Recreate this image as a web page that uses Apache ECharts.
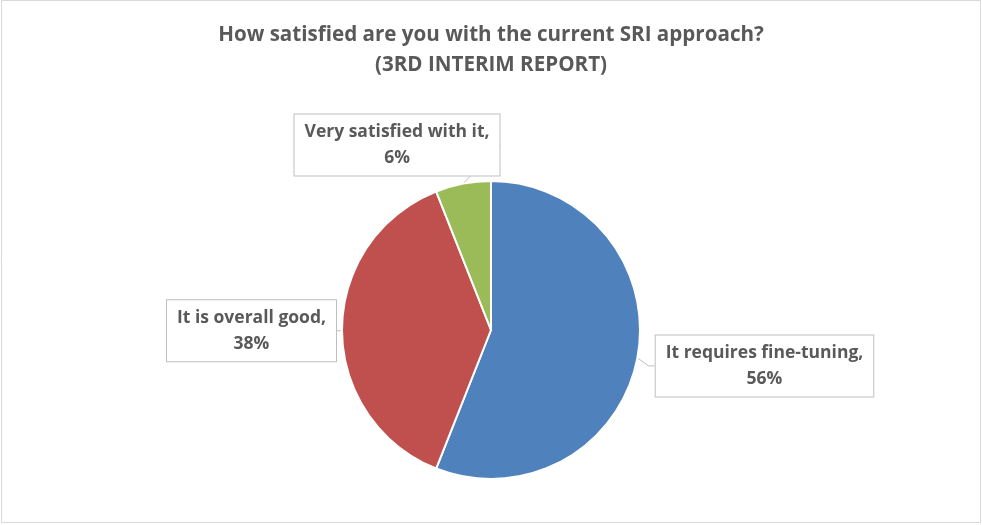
<!DOCTYPE html>
<html>
<head>
<meta charset="utf-8">
<script src="https://cdn.jsdelivr.net/npm/echarts@6/dist/echarts.min.js"></script>
<style>
  html, body { margin: 0; padding: 0; background: #fff; }
  #chart { width: 982px; height: 525px; }
</style>
</head>
<body>
<div id="chart"></div>
<script>
// Survey responses, share of respondents (%)
const categories = ['It requires fine-tuning', 'It is overall good', 'Very satisfied with it'];
const shares = [56, 38, 6];
const colors = ['#4F81BD', '#C0504D', '#9BBB59'];
const titleLines = ['How satisfied are you with the current SRI approach?', '(3RD INTERIM REPORT)'];

const FONT = '"Open Sans", "Noto Sans", sans-serif';
const TEXT = '#595959';

// Callout placement for each slice, as fractions of the canvas
const calloutAt = [
  { fx: 0.7785, fy: 0.697 },
  { fx: 0.2561, fy: 0.630 },
  { fx: 0.4043, fy: 0.276 }
];

const chart = echarts.init(document.getElementById('chart'), null, { renderer: 'canvas' });

chart.setOption({
  backgroundColor: '#fff',
  animation: false,
  graphic: [{
    type: 'rect',
    shape: { x: 1.5, y: 0.5, width: 979, height: 522 },
    style: { fill: 'none', stroke: '#D9D9D9', lineWidth: 1 },
    silent: true
  }],
  title: {
    text: titleLines.join('\n'),
    left: 'center',
    top: 15,
    textStyle: {
      fontFamily: FONT,
      fontWeight: 'bold',
      fontSize: 20.6,
      color: TEXT,
      lineHeight: 30
    }
  },
  series: [{
    type: 'pie',
    center: [491, 330],
    radius: [0, 149],
    startAngle: 90,
    clockwise: true,
    itemStyle: { borderColor: '#fff', borderWidth: 2 },
    data: categories.map((name, i) => ({
      name,
      value: shares[i],
      itemStyle: { color: colors[i] }
    })),
    label: {
      show: true,
      position: 'outside',
      formatter: p => p.name + ',\n' + p.value + '%',
      fontFamily: FONT,
      fontWeight: 'bold',
      fontSize: 17.5,
      lineHeight: 26,
      color: TEXT,
      align: 'center',
      backgroundColor: '#fff',
      borderColor: '#BFBFBF',
      borderWidth: 1,
      padding: [5, 10, 4, 10]
    },
    labelLine: {
      show: true,
      length: 6,
      length2: 6,
      lineStyle: { color: '#BFBFBF', width: 1 }
    },
    labelLayout: p => {
      const c = calloutAt[p.dataIndex];
      return {
        x: c.fx * 982,
        y: c.fy * 525,
        align: 'center',
        verticalAlign: 'middle'
      };
    }
  }]
});
</script>
</body>
</html>
